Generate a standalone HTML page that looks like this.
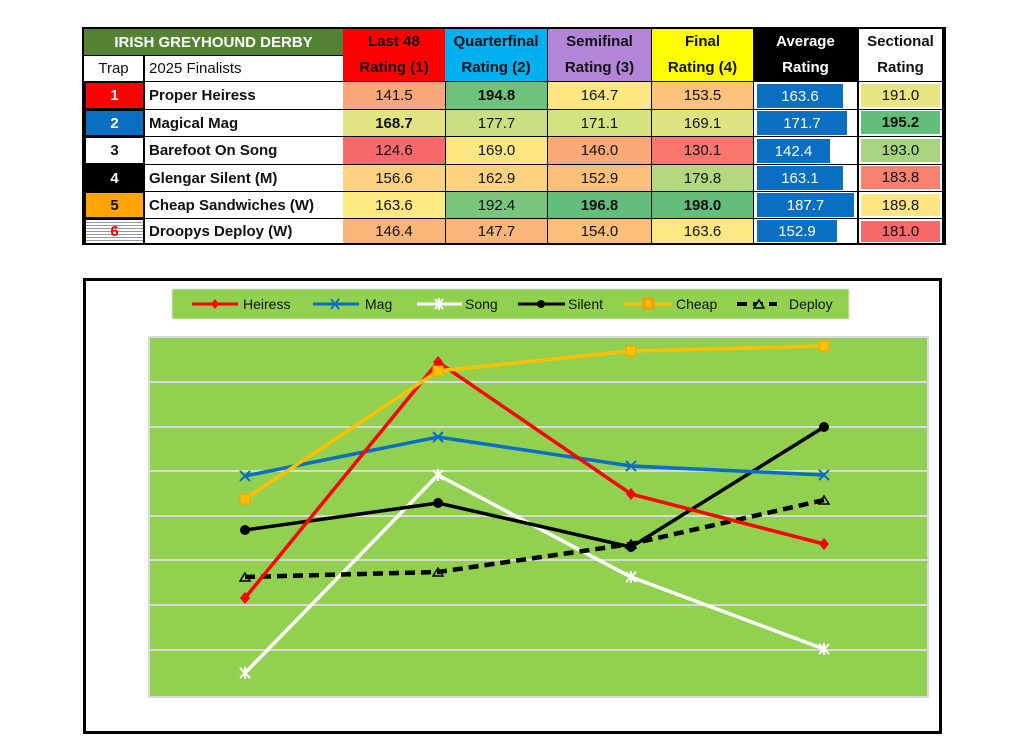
<!DOCTYPE html>
<html><head><meta charset="utf-8"><style>
body{margin:0;width:1024px;height:756px;background:#fff;position:relative;overflow:hidden;font-family:"Liberation Sans",sans-serif}
.c{position:absolute;box-sizing:border-box;display:flex;align-items:center;justify-content:center;font-size:15px;color:#111;line-height:1}
.h{position:absolute;box-sizing:border-box;display:block;text-align:center;font-size:15px;font-weight:bold;color:#111;line-height:26px}
.n{justify-content:flex-start;padding-left:4px;font-weight:bold}
.b{font-weight:bold}
.bar{position:absolute;background:#0a6fc2;color:#fff;font-size:15px;display:flex;align-items:center;justify-content:center;box-sizing:border-box}
</style></head><body>
<div style="position:absolute;left:82px;top:27px;width:864px;height:218px;background:#000"></div>
<div class="c b" style="left:84px;top:29px;width:259px;height:26px;background:#548235;color:#fff">IRISH GREYHOUND DERBY</div>
<div class="c" style="left:84px;top:56px;width:59px;height:25px;background:#fff">Trap</div>
<div class="c n" style="left:145px;top:56px;width:198px;height:25px;background:#fff;font-weight:normal">2025 Finalists</div>
<div class="h" style="left:343px;top:29px;width:102px;height:52px;background:#ff0000">Last 48<br>Rating (1)</div>
<div class="h" style="left:445px;top:29px;width:102px;height:52px;background:#00b0f0">Quarterfinal<br>Rating (2)</div>
<div class="h" style="left:548px;top:29px;width:103px;height:52px;background:#b285d8">Semifinal<br>Rating (3)</div>
<div class="h" style="left:652px;top:29px;width:101px;height:52px;background:#ffff00">Final<br>Rating (4)</div>
<div class="h" style="left:754px;top:29px;width:103px;height:52px;background:#000;color:#fff">Average<br>Rating</div>
<div class="h" style="left:859px;top:29px;width:83px;height:52px;background:#fff">Sectional<br>Rating</div>

<!-- rows -->
<div class="c b" style="left:86px;top:83px;width:57px;height:25px;background:#ff0000;color:#fff">1</div>
<div class="c b" style="left:86px;top:111px;width:57px;height:24px;background:#0a6fc2;color:#fff">2</div>
<div class="c b" style="left:86px;top:138px;width:57px;height:25px;background:#fff">3</div>
<div class="c b" style="left:86px;top:166px;width:57px;height:24px;background:#000;color:#fff">4</div>
<div class="c b" style="left:86px;top:193px;width:57px;height:24px;background:#ffa500">5</div>
<div class="c b" style="left:86px;top:220px;width:57px;height:23px;background:repeating-linear-gradient(#fff 0 2px,#999 2px 3px);color:#f00">6</div>

<div class="c n" style="left:145px;top:82px;width:198px;height:27px;background:#fff">Proper Heiress</div>
<div class="c n" style="left:145px;top:110px;width:198px;height:26px;background:#fff">Magical Mag</div>
<div class="c n" style="left:145px;top:137px;width:198px;height:27px;background:#fff">Barefoot On Song</div>
<div class="c n" style="left:145px;top:165px;width:198px;height:26px;background:#fff">Glengar Silent (M)</div>
<div class="c n" style="left:145px;top:192px;width:198px;height:26px;background:#fff">Cheap Sandwiches (W)</div>
<div class="c n" style="left:145px;top:219px;width:198px;height:24px;background:#fff">Droopys Deploy (W)</div>

<!-- L48 -->
<div class="c" style="left:343px;top:82px;width:102px;height:27px;background:#f9a77a">141.5</div>
<div class="c b" style="left:343px;top:110px;width:102px;height:26px;background:#e2e383">168.7</div>
<div class="c" style="left:343px;top:137px;width:102px;height:27px;background:#f8696b">124.6</div>
<div class="c" style="left:343px;top:165px;width:102px;height:26px;background:#fdd17f">156.6</div>
<div class="c" style="left:343px;top:192px;width:102px;height:26px;background:#fee983">163.6</div>
<div class="c" style="left:343px;top:219px;width:102px;height:24px;background:#fbb479">146.4</div>
<!-- QF -->
<div class="c b" style="left:446px;top:82px;width:101px;height:27px;background:#6fc27c">194.8</div>
<div class="c" style="left:446px;top:110px;width:101px;height:26px;background:#c9df81">177.7</div>
<div class="c" style="left:446px;top:137px;width:101px;height:27px;background:#fee783">169.0</div>
<div class="c" style="left:446px;top:165px;width:101px;height:26px;background:#fdd37f">162.9</div>
<div class="c" style="left:446px;top:192px;width:101px;height:26px;background:#7ac57d">192.4</div>
<div class="c" style="left:446px;top:219px;width:101px;height:24px;background:#fbb57a">147.7</div>
<!-- SF -->
<div class="c" style="left:548px;top:82px;width:103px;height:27px;background:#fee783">164.7</div>
<div class="c" style="left:548px;top:110px;width:103px;height:26px;background:#d5e282">171.1</div>
<div class="c" style="left:548px;top:137px;width:103px;height:27px;background:#fbaa77">146.0</div>
<div class="c" style="left:548px;top:165px;width:103px;height:26px;background:#fcbe7b">152.9</div>
<div class="c b" style="left:548px;top:192px;width:103px;height:26px;background:#63be7b">196.8</div>
<div class="c" style="left:548px;top:219px;width:103px;height:24px;background:#fcbf7b">154.0</div>
<!-- Final -->
<div class="c" style="left:652px;top:82px;width:101px;height:27px;background:#fcc37c">153.5</div>
<div class="c" style="left:652px;top:110px;width:101px;height:26px;background:#dde383">169.1</div>
<div class="c" style="left:652px;top:137px;width:101px;height:27px;background:#f8776d">130.1</div>
<div class="c" style="left:652px;top:165px;width:101px;height:26px;background:#b3d880">179.8</div>
<div class="c b" style="left:652px;top:192px;width:101px;height:26px;background:#63be7b">198.0</div>
<div class="c" style="left:652px;top:219px;width:101px;height:24px;background:#fee883">163.6</div>
<!-- Avg -->
<div class="c" style="left:754px;top:82px;width:103px;height:27px;background:#fff"></div>
<div class="c" style="left:754px;top:110px;width:103px;height:26px;background:#fff"></div>
<div class="c" style="left:754px;top:137px;width:103px;height:27px;background:#fff"></div>
<div class="c" style="left:754px;top:165px;width:103px;height:26px;background:#fff"></div>
<div class="c" style="left:754px;top:192px;width:103px;height:26px;background:#fff"></div>
<div class="c" style="left:754px;top:219px;width:103px;height:24px;background:#fff"></div>
<div class="bar" style="left:757px;top:84px;width:86px;height:24px">163.6</div>
<div class="bar" style="left:757px;top:111px;width:90px;height:24px">171.7</div>
<div class="bar" style="left:757px;top:139px;width:73px;height:24px">142.4</div>
<div class="bar" style="left:757px;top:166px;width:86px;height:24px">163.1</div>
<div class="bar" style="left:757px;top:193px;width:97px;height:24px">187.7</div>
<div class="bar" style="left:757px;top:220px;width:80px;height:22px">152.9</div>
<!-- Sect -->
<div class="c" style="left:859px;top:82px;width:83px;height:27px;background:#fff"></div>
<div class="c" style="left:859px;top:110px;width:83px;height:26px;background:#fff"></div>
<div class="c" style="left:859px;top:137px;width:83px;height:27px;background:#fff"></div>
<div class="c" style="left:859px;top:165px;width:83px;height:26px;background:#fff"></div>
<div class="c" style="left:859px;top:192px;width:83px;height:26px;background:#fff"></div>
<div class="c" style="left:859px;top:219px;width:83px;height:24px;background:#fff"></div>
<div class="c" style="left:861px;top:84px;width:79px;height:23px;background:#e8e583">191.0</div>
<div class="c b" style="left:861px;top:111px;width:79px;height:23px;background:#63be7b">195.2</div>
<div class="c" style="left:861px;top:139px;width:79px;height:23px;background:#a9d47f">193.0</div>
<div class="c" style="left:861px;top:166px;width:79px;height:23px;background:#f8816f">183.8</div>
<div class="c" style="left:861px;top:194px;width:79px;height:22px;background:#fee683">189.8</div>
<div class="c" style="left:861px;top:221px;width:79px;height:21px;background:#f8696b">181.0</div>

<svg style="position:absolute;left:0;top:0" width="1024" height="756" font-family="Liberation Sans, sans-serif">
<rect x="84.5" y="279.5" width="856" height="453" fill="#fff" stroke="#000" stroke-width="3"/>
<rect x="172" y="289" width="677" height="30" fill="#92d050" stroke="#e0e0e0"/>
<rect x="149" y="337" width="779" height="360" fill="#92d050" stroke="#d9d9d9" stroke-width="2"/>
<g stroke="#d9d9d9" stroke-width="2">
<line x1="149" x2="928" y1="382" y2="382"/><line x1="149" x2="928" y1="427" y2="427"/>
<line x1="149" x2="928" y1="471" y2="471"/><line x1="149" x2="928" y1="516" y2="516"/>
<line x1="149" x2="928" y1="560" y2="560"/><line x1="149" x2="928" y1="605" y2="605"/>
<line x1="149" x2="928" y1="650" y2="650"/>
</g>
<g fill="none" stroke-width="3.5">
<polyline stroke="#ffffff" points="245,673 438,475 631,577 824,649"/>
<polyline stroke="#000" stroke-dasharray="10,6" stroke-width="4.5" points="245,577 438,572 631,544 824,500"/>
<polyline stroke="#000" points="245,530 438,503 631,547 824,427"/>
<polyline stroke="#0a6fc2" points="245,476 438,437 631,466 824,475"/>
<polyline stroke="#ff0000" points="245,598 438,362 631,494 824,544"/>
<polyline stroke="#ffc000" points="245,499 438,371 631,351 824,346"/>
</g>
<g fill="#ff0000"><path d="M245,592l5,6-5,6-5-6z"/><path d="M438,356l5,6-5,6-5-6z"/><path d="M631,488l5,6-5,6-5-6z"/><path d="M824,538l5,6-5,6-5-6z"/></g>
<g fill="#000"><circle cx="245" cy="530" r="5"/><circle cx="438" cy="503" r="5"/><circle cx="631" cy="547" r="5"/><circle cx="824" cy="427" r="5"/></g>
<g fill="#ffc000" stroke="#f0a000"><rect x="240" y="494" width="10" height="10"/><rect x="433" y="366" width="10" height="10"/><rect x="626" y="346" width="10" height="10"/><rect x="819" y="341" width="10" height="10"/></g>
<g stroke="#0a6fc2" stroke-width="2"><path d="M240,471l10,10M250,471l-10,10M433,432l10,10M443,432l-10,10M626,461l10,10M636,461l-10,10M819,470l10,10M829,470l-10,10"/></g>
<g stroke="#fff" stroke-width="2"><path d="M240,668l10,10M250,668l-10,10M245,667v12M433,470l10,10M443,470l-10,10M438,469v12M626,572l10,10M636,572l-10,10M631,571v12M819,644l10,10M829,644l-10,10M824,643v12"/></g>
<g fill="none" stroke="#000" stroke-width="1.5"><path d="M240,581l5,-8 5,8z"/><path d="M433,576l5,-8 5,8z"/><path d="M626,548l5,-8 5,8z"/><path d="M819,504l5,-8 5,8z"/></g>
<!-- legend -->
<g stroke-width="3">
<line x1="192" x2="238" y1="304" y2="304" stroke="#ff0000"/><path d="M215,299l4,5-4,5-4-5z" fill="#ff0000"/>
<line x1="313" x2="359" y1="304" y2="304" stroke="#0a6fc2"/><path d="M331,299l8,10M339,299l-8,10" stroke="#0a6fc2" stroke-width="2"/>
<line x1="417" x2="462" y1="304" y2="304" stroke="#fff"/><path d="M435,299l8,10M443,299l-8,10M439,298v12" stroke="#fff" stroke-width="2"/>
<line x1="518" x2="565" y1="304" y2="304" stroke="#000"/><circle cx="541" cy="304" r="4" fill="#000"/>
<line x1="625" x2="671" y1="304" y2="304" stroke="#ffc000"/><rect x="644" y="299" width="9" height="9" fill="#ffc000" stroke="#f0a000"/>
<line x1="737" x2="777" y1="304" y2="304" stroke="#000" stroke-dasharray="10,6" stroke-width="4"/><path d="M754,308l5,-8 5,8z" fill="#92d050" stroke="#000" stroke-width="1.5"/>
</g>
<g font-size="14" fill="#111">
<text x="243" y="309">Heiress</text><text x="365" y="309">Mag</text><text x="465" y="309">Song</text>
<text x="568" y="309">Silent</text><text x="676" y="309">Cheap</text><text x="789" y="309">Deploy</text>
</g>
</svg>
</body></html>
